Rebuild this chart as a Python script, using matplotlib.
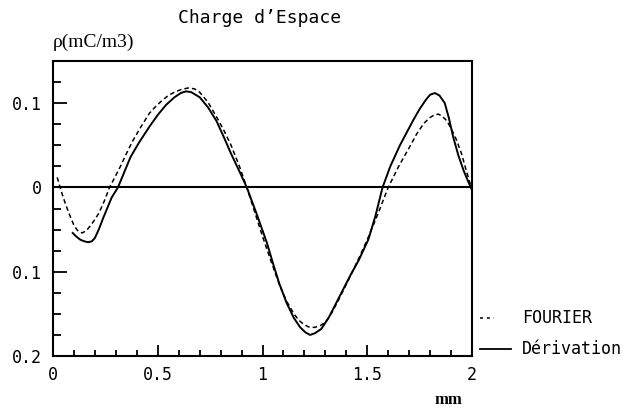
import numpy as np
import matplotlib
matplotlib.use('Agg')
import matplotlib.pyplot as plt
from matplotlib.lines import Line2D

# Courbe FOURIER (pointillés)
x_fourier = [0.02, 0.04, 0.06, 0.08, 0.10, 0.12, 0.14, 0.16, 0.18, 0.20, 0.22, 0.245,
             0.27, 0.295, 0.32, 0.35, 0.38, 0.42, 0.46, 0.49, 0.52, 0.55, 0.58, 0.61,
             0.645, 0.675, 0.70, 0.74, 0.78, 0.815, 0.85, 0.89, 0.925, 0.96, 1.00, 1.04,
             1.08, 1.115, 1.15, 1.175, 1.20, 1.225, 1.25, 1.275, 1.30, 1.33, 1.36, 1.39,
             1.42, 1.46, 1.50, 1.55, 1.60, 1.65, 1.70, 1.735, 1.77, 1.80, 1.82, 1.84,
             1.86, 1.88, 1.90, 1.925, 1.95, 1.975, 2.00]
y_fourier = [0.012, -0.005, -0.020, -0.033, -0.045, -0.052, -0.054, -0.051, -0.045, -0.038, -0.030, -0.016,
             0.0, 0.012, 0.024, 0.040, 0.055, 0.072, 0.088, 0.096, 0.103, 0.109, 0.113, 0.116,
             0.118, 0.117, 0.113, 0.101, 0.084, 0.068, 0.050, 0.025, 0.0, -0.027, -0.058, -0.087,
             -0.115, -0.135, -0.150, -0.158, -0.163, -0.166, -0.166, -0.164, -0.160, -0.149, -0.135, -0.120,
             -0.105, -0.084, -0.062, -0.032, 0.0, 0.025, 0.047, 0.063, 0.076, 0.083, 0.086, 0.087,
             0.084, 0.079, 0.070, 0.057, 0.040, 0.018, -0.003]

# Courbe Dérivation (trait plein)
x_deriv = [0.094, 0.11, 0.13, 0.15, 0.167, 0.185, 0.20, 0.22, 0.24, 0.26, 0.28, 0.31,
           0.34, 0.37, 0.41, 0.46, 0.50, 0.54, 0.58, 0.61, 0.635, 0.66, 0.70, 0.74,
           0.78, 0.815, 0.85, 0.89, 0.925, 0.97, 1.02, 1.05, 1.08, 1.115, 1.15, 1.18,
           1.205, 1.227, 1.25, 1.28, 1.315, 1.35, 1.385, 1.42, 1.46, 1.505, 1.54, 1.573,
           1.61, 1.656, 1.69, 1.72, 1.75, 1.78, 1.80, 1.823, 1.845, 1.87, 1.89, 1.91,
           1.935, 1.96, 1.98, 2.00]
y_deriv = [-0.054, -0.058, -0.062, -0.064, -0.065, -0.064, -0.060, -0.049, -0.036, -0.024, -0.012, 0.0,
           0.018, 0.036, 0.053, 0.072, 0.086, 0.098, 0.107, 0.112, 0.114, 0.113, 0.107, 0.095,
           0.079, 0.060, 0.040, 0.019, 0.0, -0.030, -0.065, -0.090, -0.114, -0.137, -0.155, -0.166,
           -0.172, -0.175, -0.173, -0.168, -0.155, -0.138, -0.121, -0.104, -0.086, -0.062, -0.033, 0.0,
           0.025, 0.050, 0.066, 0.080, 0.093, 0.104, 0.110, 0.112, 0.109, 0.100, 0.082, 0.060,
           0.038, 0.020, 0.008, -0.003]

xticks = [0, 0.5, 1, 1.5, 2]
xticklabels = ['0', '0.5', '1', '1.5', '2']
yticks = [-0.2, -0.1, 0, 0.1]
yticklabels = ['0.2', '0.1', '0', '0.1']

mono = 'DejaVu Sans Mono'
serif = 'Liberation Serif'

fig = plt.figure(figsize=(6.41, 4.13), dpi=100)
ax = fig.add_axes([53/641, 1 - 356/413, 419/641, 295/413])

ax.axhline(0, color='black', lw=1.5)
ax.plot(x_fourier, y_fourier, color='black', lw=1.1, linestyle=(0, (3, 2)))
ax.plot(x_deriv, y_deriv, color='black', lw=1.4)

ax.set_xlim(0, 2)
ax.set_ylim(-0.2, 0.148)

ax.set_xticks(xticks)
ax.set_xticklabels(xticklabels, fontfamily=mono, fontsize=12)
ax.set_xticks(np.arange(0, 2.0001, 0.1), minor=True)
ax.set_yticks(yticks)
ax.set_yticklabels(yticklabels, fontfamily=mono, fontsize=12)
ax.set_yticks(np.arange(-0.2, 0.1501, 0.025), minor=True)

ax.tick_params(axis='both', which='both', direction='in', top=False, right=False, width=1.3)
ax.tick_params(axis='y', which='major', length=10, pad=8)
ax.tick_params(axis='y', which='minor', length=6)
ax.tick_params(axis='x', which='major', length=8, pad=7)
ax.tick_params(axis='x', which='minor', length=4)

for s in ax.spines.values():
    s.set_linewidth(1.5)

fig.text(260/641, 1 - 18/413, "Charge d\u2019Espace", fontfamily=mono, fontsize=13,
         ha='center', va='center')
fig.text(53/641, 1 - 42/413, "\u03c1(mC/m3)", fontfamily=serif, fontsize=14,
         ha='left', va='center')
fig.text(448/641, 1 - 400/413, "mm", fontfamily=serif, fontsize=12, fontweight='bold',
         ha='center', va='center')

# Légende à droite
fig.add_artist(Line2D([480/641, 494/641], [1 - 318/413, 1 - 318/413], color='black',
                      lw=1.1, linestyle=(0, (2, 2.5))))
fig.add_artist(Line2D([480/641, 511/641], [1 - 349/413, 1 - 349/413], color='black', lw=1.3))
fig.text(522/641, 1 - 318/413, "FOURIER", fontfamily=mono, fontsize=12, ha='left', va='center')
fig.text(522/641, 1 - 349/413, "D\u00e9rivation", fontfamily=mono, fontsize=12, ha='left', va='center')

fig.savefig('out.png', dpi=100)
